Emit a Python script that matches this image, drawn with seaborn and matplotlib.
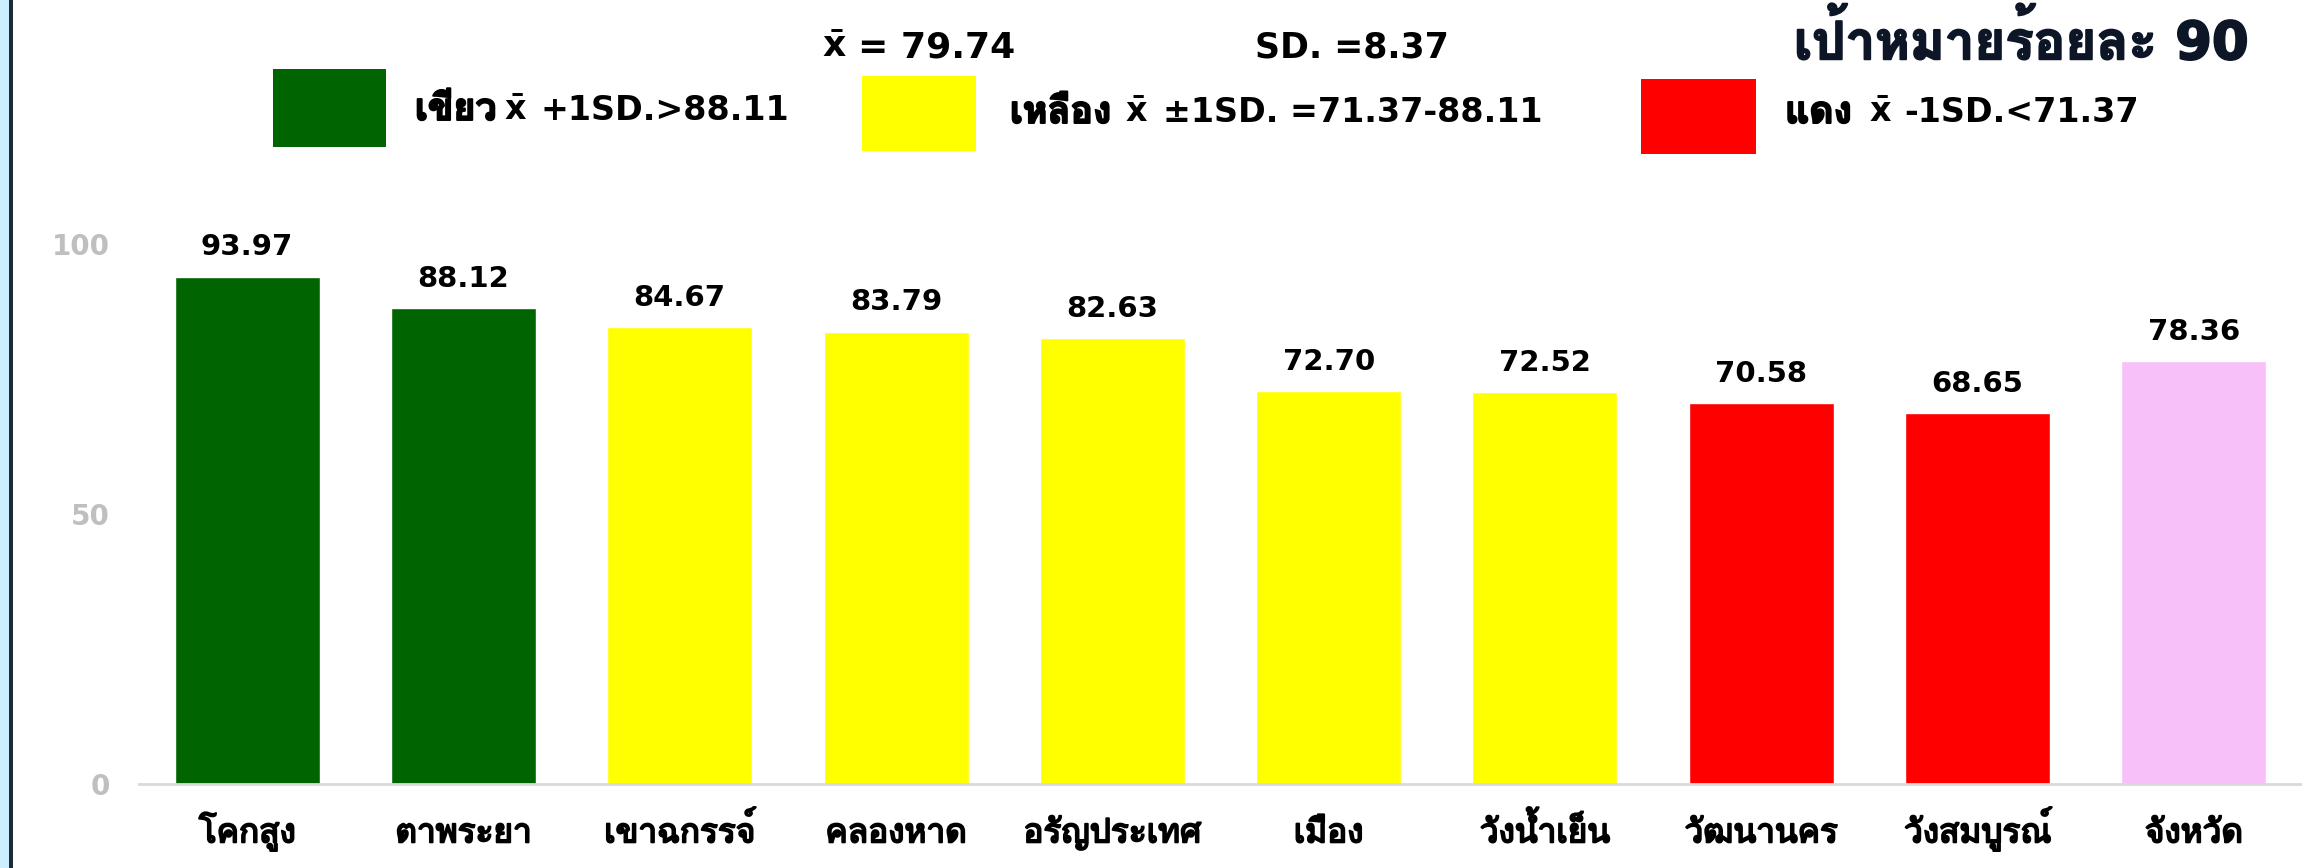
import matplotlib
matplotlib.use('Agg')
import numpy as np
import pandas as pd
import seaborn as sns
import matplotlib.pyplot as plt
from matplotlib import font_manager, patheffects
from matplotlib.patches import Rectangle
from fontTools.ttLib import TTFont

districts = ['โคกสูง', 'ตาพระยา', 'เขาฉกรรจ์', 'คลองหาด', 'อรัญประเทศ',
             'เมือง', 'วังน้ำเย็น', 'วัฒนานคร', 'วังสมบูรณ์', 'จังหวัด']
scores = [93.97, 88.12, 84.67, 83.79, 82.63, 72.70, 72.52, 70.58, 68.65, 78.36]
bar_colors = ['#006400', '#006400', '#ffff00', '#ffff00', '#ffff00',
              '#ffff00', '#ffff00', '#ff0000', '#ff0000', '#f8c0f8']
y_ticks = [0, 50, 100]

mean_score = 79.74
sd_score = 8.37
upper_cut = 88.11
lower_cut = 71.37
target = 90

W, H = 2302, 868


def thai_font_name():
    # look for any installed font that has Thai glyphs
    found = []
    for path in font_manager.findSystemFonts():
        try:
            cmap = TTFont(path, fontNumber=0, lazy=True).getBestCmap()
        except Exception:
            continue
        if cmap and 0x0E01 in cmap:
            found.append(path)
    if not found:
        return None
    found.sort(key=lambda p: ('bold' not in p.lower(), p))
    return font_manager.FontProperties(fname=found[0]).get_name()


sns.set_style('white')
thai = thai_font_name()
families = ['DejaVu Sans']
if thai:
    families.append(thai)
plt.rcParams['font.family'] = families
plt.rcParams['text.color'] = 'black'

# the thai face has no bold, so thicken it with a thin outline
heavy = [patheffects.withStroke(linewidth=1.4, foreground='black')]


def put_text(x, y, s, size, color='black', thick=False):
    t = fig.text(x / W, 1 - y / H, s, fontsize=size, fontweight='bold',
                 color=color, ha='left', va='center')
    if thick:
        t.set_path_effects([patheffects.withStroke(linewidth=1.4, foreground=color)])


def put_box(x0, y0, x1, y1, color):
    fig.add_artist(Rectangle((x0 / W, 1 - y1 / H), (x1 - x0) / W, (y1 - y0) / H,
                             transform=fig.transFigure, color=color, lw=0))


fig = plt.figure(figsize=(W / 100, H / 100), dpi=100)
ax = fig.add_axes([139 / W, 1 - 784 / H, 1 - 139 / W, 540 / H])

df = pd.DataFrame({'district': districts, 'score': scores})
sns.barplot(data=df, x='district', y='score', hue='district', palette=bar_colors,
            legend=False, width=0.67, saturation=1, ax=ax)

for c in ax.containers:
    ax.bar_label(c, fmt='%.2f', padding=11, fontsize=21, fontweight='bold',
                 color='black')

ax.set_xlim(-0.5, len(districts) - 0.5)
ax.set_ylim(0, 100)
ax.set_yticks(y_ticks)
ax.set_xticks(np.arange(-0.5, len(districts), 1), minor=True)
ax.set_xlabel('')
ax.set_ylabel('')

for side in ['top', 'right', 'left']:
    ax.spines[side].set_visible(False)
ax.spines['bottom'].set_color('#d9d9d9')
ax.spines['bottom'].set_linewidth(2)

# baseline-aligned labels so the thai vowel marks don't shift them
ax.tick_params(axis='x', which='major', length=0, pad=42, labelsize=24,
               labelcolor='black')
ax.tick_params(axis='x', which='minor', length=8, width=1.5, color='#d9d9d9')
ax.tick_params(axis='y', length=0, pad=21, labelsize=20, labelcolor='#bfbfbf')
for lbl in ax.get_xticklabels():
    lbl.set_va('baseline')
    lbl.set_path_effects(heavy)
for lbl in ax.get_yticklabels():
    lbl.set_fontweight('bold')

# header: mean, sd and target
put_text(822, 47, r'$\mathbf{\bar{x}}$', 26)
put_text(858, 47, '= %.2f' % mean_score, 26)
put_text(1255, 47, 'SD. =%.2f' % sd_score, 25)
put_text(1794, 41, 'เป้าหมายร้อยละ %d' % target, 38, color='#0d1626', thick=True)

# colour key
put_box(273, 69, 386, 147, '#006400')
put_text(415, 110, 'เขียว', 27, thick=True)
put_text(504, 110, r'$\mathbf{\bar{x}}$', 24)
put_text(540, 110, '+1SD.>%.2f' % upper_cut, 24)

put_box(862, 76, 976, 151, '#ffff00')
put_text(1010, 113, 'เหลือง', 27, thick=True)
put_text(1125, 113, r'$\mathbf{\bar{x}}$', 24)
put_text(1163, 113, '±1SD. =%.2f-%.2f' % (lower_cut, upper_cut), 24)

put_box(1641, 79, 1756, 154, '#ff0000')
put_text(1785, 113, 'แดง', 27, thick=True)
put_text(1869, 113, r'$\mathbf{\bar{x}}$', 24)
put_text(1904, 113, '-1SD.<%.2f' % lower_cut, 24)

# frame strip on the left edge
put_box(0, 0, 9, H, '#cdeefe')
put_box(9, 0, 13, H, '#1b2b3a')

fig.savefig('out.png', dpi=100)
